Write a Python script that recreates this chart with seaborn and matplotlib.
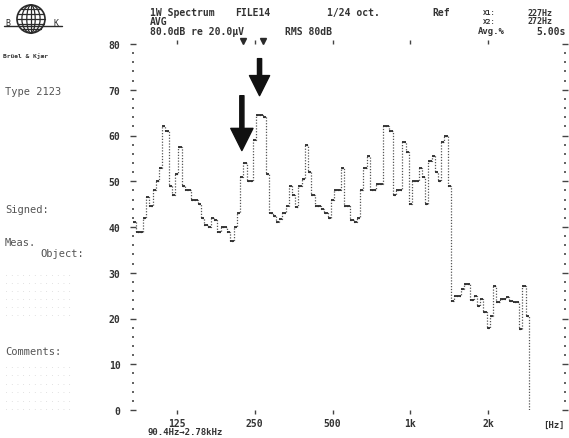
import matplotlib
matplotlib.use('Agg')
import matplotlib.pyplot as plt
import numpy as np
import pandas as pd
import seaborn as sns
from matplotlib.patches import Circle, Ellipse
from matplotlib.ticker import NullLocator

# 1/24-octave band levels (dB re 20 uV), first band index relative to 1 kHz
first_band = -85
levels = [41, 39, 39, 42, 46.5, 44.5, 48, 50, 53, 62,
          61, 49, 47, 51.5, 57.5, 49, 48, 48, 46, 46,
          45, 42, 40.5, 40, 42, 41.5, 39, 40, 40, 39,
          37, 40, 43, 51, 54, 50, 50, 59, 64.5, 64.5,
          64, 51.5, 43, 42.5, 41, 41.8, 43, 44.6, 49, 47,
          44.4, 49, 50.5, 58, 52, 47, 44.6, 44.6, 44, 43,
          42, 46, 48, 48, 53, 44.5, 44.5, 41.5, 41, 42,
          48, 53, 55.5, 48, 48, 49.5, 49.5, 62, 62, 61,
          47, 48, 48, 58.5, 56.5, 45, 50, 50, 53, 51,
          45, 54.5, 55.5, 52, 50, 58.5, 60, 49, 23.8, 25,
          25, 26.5, 27.5, 27.5, 24, 25, 22.8, 24.3, 21.4, 18,
          20.6, 27, 23.6, 24.3, 24.3, 24.7, 23.8, 23.6, 23.6, 17.7,
          27, 20.6]

xticks = [125, 250, 500, 1000, 2000]
xticklabels = ['125', '250', '500', '1k', '2k']
cursors = [225, 270]

bands = np.arange(first_band, first_band + len(levels))
edges = 1000 * 2 ** ((np.append(bands, bands[-1] + 1) - 0.5) / 24)
df = pd.DataFrame({'freq': edges, 'level': levels + [0]})

sns.set_style('white')
plt.rcParams['font.family'] = ['DejaVu Sans Mono']
ink = '#2a2a2a'

fig = plt.figure(figsize=(5.69, 4.39), dpi=100)
ax = fig.add_axes([133/569, 28/439, 432/569, 366/439])

sns.lineplot(data=df, x='freq', y='level', drawstyle='steps-post', estimator=None,
             color='#555555', lw=0.9, ls=(0, (1, 1.3)), ax=ax)
ax.hlines(levels, edges[:-1], edges[1:], color=ink, lw=1.3)

ax.set_xscale('log')
ax.set_xlim(84.6, 3960)
ax.set_ylim(0, 80)
for s in ax.spines.values():
    s.set_visible(False)
ax.set_xlabel('')
ax.set_ylabel('')

ax.set_yticks(range(0, 81, 10))
ax.set_yticks(range(0, 81, 2), minor=True)
ax.set_yticklabels([str(v) for v in range(0, 81, 10)], fontweight='bold', color='#333333')
ax.tick_params(axis='y', which='major', left=True, right=True, length=4, width=1,
               direction='inout', color='#444444', labelsize=7, pad=7)
ax.tick_params(axis='y', which='minor', left=True, right=True, length=1.5, width=1.3,
               direction='inout', color='#555555')

ax.set_xticks(xticks)
ax.set_xticklabels(xticklabels, fontweight='bold', color='#333333')
ax.xaxis.set_minor_locator(NullLocator())
ax.tick_params(axis='x', which='major', bottom=True, top=True, length=3, width=1,
               direction='out', color='#444444', labelsize=7, pad=3)

ax.plot(cursors, [80.6, 80.6], marker='v', ls='none', ms=4, color=ink, clip_on=False)

# pointer arrows
ax.annotate('', xy=(223, 56.7), xytext=(223, 68.7),
            arrowprops=dict(facecolor='#111111', edgecolor='#111111',
                            width=3, headwidth=16, headlength=16, shrink=0))
ax.annotate('', xy=(261, 68.7), xytext=(261, 76.8),
            arrowprops=dict(facecolor='#111111', edgecolor='#111111',
                            width=3, headwidth=14.5, headlength=14.5, shrink=0))


def t(x, y, s, size=7, **kw):
    fig.text(x / 569, 1 - y / 439, s, fontsize=size, va='center', ha='left',
             color=kw.pop('color', '#333333'), fontweight=kw.pop('fontweight', 'bold'), **kw)


# header
t(150, 13, '1W Spectrum')
t(235, 13, 'FILE14')
t(327, 13, '1/24 oct.')
t(432, 13, 'Ref')
t(483, 13, 'X1:', size=5)
t(527, 13, '227Hz', size=6)
t(150, 22, 'AVG')
t(483, 22, 'X2:', size=5)
t(527, 22, '272Hz', size=6)
t(150, 32, '80.0dB re 20.0\u00b5V')
t(285, 32, 'RMS 80dB')
t(478, 32, 'Avg.%', size=6.5)
t(536, 32, '5.00s')
t(148, 433, '90.4Hz\u21922.78kHz', size=6.5)
t(543, 425, '[Hz]', size=6.5)

# left panel
t(3, 56, 'Br\u00fcel & Kj\u00e6r', size=4.5)
t(5, 92, 'Type 2123', size=7.5, fontweight='normal', color='#555555')
t(5, 210, 'Signed:', size=7.5, fontweight='normal', color='#555555')
t(5, 243, 'Meas.', size=7.5, fontweight='normal', color='#555555')
t(40, 254, 'Object:', size=7.5, fontweight='normal', color='#555555')
t(5, 352, 'Comments:', size=7.5, fontweight='normal', color='#555555')
for y in [275, 283, 291, 299, 307, 315, 367, 375, 384, 392, 401, 409]:
    t(5, y, '. . . . . . . . . . . .', size=3.5, fontweight='normal', color='#c4c4c4')

# logo
lg = fig.add_axes([0, 1 - 42/439, 66/569, 42/439])
lg.set_xlim(0, 66)
lg.set_ylim(42, 0)
lg.axis('off')
cx, cy, r = 31, 20, 14
lg.add_patch(Circle((cx, cy), r, fill=False, lw=1.2, color=ink))
for dy in [-10, -5, 0, 5, 10]:
    half = np.sqrt(r**2 - dy**2)
    lg.plot([cx - half, cx + half], [cy + dy, cy + dy], color=ink, lw=0.9)
for f in [0.3, 0.65]:
    lg.add_patch(Ellipse((cx, cy), 2 * r * f, 2 * r, fill=False, lw=0.9, color=ink))
lg.plot([cx, cx], [cy - r, cy + r], color=ink, lw=0.9)
lg.plot([4, 62], [27, 27], color=ink, lw=1)
lg.text(8, 23, 'B', fontsize=6, color=ink, ha='center', va='center')
lg.text(56, 23, 'K', fontsize=6, color=ink, ha='center', va='center')

fig.savefig('out.png', dpi=100)
